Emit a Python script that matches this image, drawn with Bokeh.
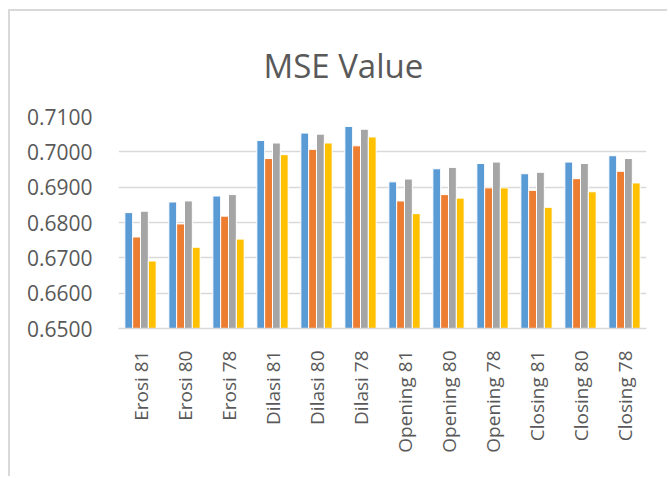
from bokeh.plotting import figure
from bokeh.models import FactorRange, Range1d, FixedTicker, ColumnDataSource, CustomJSTickFormatter
from bokeh.transform import dodge
from bokeh.embed import file_html
from bokeh.resources import INLINE
import math

categories = ["Erosi 81", "Erosi 80", "Erosi 78", "Dilasi 81", "Dilasi 80", "Dilasi 78",
              "Opening 81", "Opening 80", "Opening 78", "Closing 81", "Closing 80", "Closing 78"]
series_names = ["Series1", "Series2", "Series3", "Series4"]
series1 = [0.6828, 0.6858, 0.6875, 0.7032, 0.7053, 0.7072, 0.6915, 0.6952, 0.6967, 0.6938, 0.6971, 0.6989]
series2 = [0.6759, 0.6796, 0.6818, 0.6981, 0.7007, 0.7017, 0.6861, 0.6879, 0.6898, 0.6891, 0.6924, 0.6945]
series3 = [0.6832, 0.6861, 0.6879, 0.7025, 0.7050, 0.7064, 0.6923, 0.6956, 0.6971, 0.6942, 0.6967, 0.6981]
series4 = [0.6691, 0.6730, 0.6753, 0.6992, 0.7025, 0.7042, 0.6825, 0.6869, 0.6898, 0.6843, 0.6887, 0.6912]
y_ticks = [0.65, 0.66, 0.67, 0.68, 0.69, 0.70, 0.71]
colors = ["#5B9BD5", "#ED7D31", "#A5A5A5", "#FFC000"]

source = ColumnDataSource(dict(cat=categories, s1=series1, s2=series2, s3=series3, s4=series4))

FONT = "Open Sans"
TXT = "#595959"

p = figure(x_range=FactorRange(*categories, range_padding=0), y_range=Range1d(0.65, 0.71),
           width=659, height=467, output_backend="svg", toolbar_location=None,
           title="MSE Value",
           min_border_left=108, min_border_right=23, min_border_top=105, min_border_bottom=150)
p.styles = {"margin-left": "8px", "margin-top": "9px",
            "border-left": "2px solid #d9d9d9", "border-top": "2px solid #d9d9d9"}

bw = 0.178
for i, (col, name) in enumerate(zip(["s1", "s2", "s3", "s4"], series_names)):
    p.vbar(x=dodge("cat", (i - 1.5) * bw, range=p.x_range), top=col, bottom=0.65, width=bw,
           source=source, fill_color=colors[i], line_color="white", line_width=1, legend_label=name)

p.legend.visible = False
p.outline_line_color = None
p.background_fill_color = "white"
p.border_fill_color = "white"

p.title.align = "left"
p.title.vertical_align = "top"
p.title.padding = 22
p.title.offset = 123
p.title.standoff = 10
p.title.text_font = FONT
p.title.text_font_size = "33px"
p.title.text_font_style = "normal"
p.title.text_color = TXT

p.yaxis.ticker = FixedTicker(ticks=y_ticks)
p.yaxis.formatter = CustomJSTickFormatter(code="return tick.toFixed(4);")
p.yaxis.axis_line_color = None
p.yaxis.major_tick_line_color = None
p.yaxis.minor_tick_line_color = None
p.yaxis.major_label_text_font = FONT
p.yaxis.major_label_text_font_size = "21px"
p.yaxis.major_label_text_color = TXT
p.yaxis.major_label_standoff = 20

p.xaxis.axis_line_color = "#d9d9d9"
p.xaxis.axis_line_width = 1.5
p.xaxis.major_tick_line_color = None
p.xaxis.minor_tick_line_color = None
p.xaxis.major_label_orientation = math.pi / 2
p.xaxis.major_label_text_font = FONT
p.xaxis.major_label_text_font_size = "19px"
p.xaxis.major_label_text_color = TXT
p.xaxis.major_label_standoff = 16

p.xgrid.grid_line_color = None
p.ygrid.grid_line_color = "#d9d9d9"
p.ygrid.grid_line_width = 1.5

open("out.html", "w").write(file_html(p, INLINE))
